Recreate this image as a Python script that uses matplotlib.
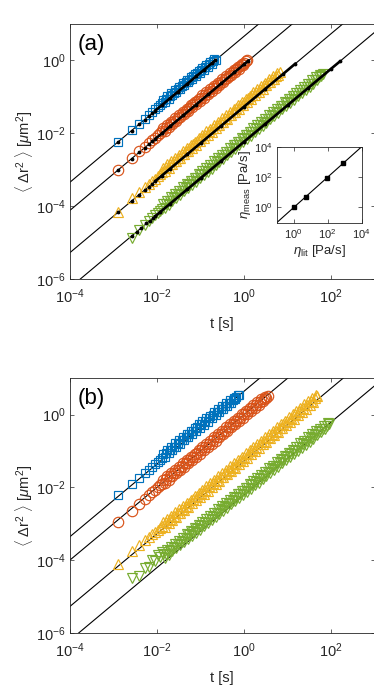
import numpy as np
import matplotlib
matplotlib.use('Agg')
import matplotlib.pyplot as plt
from matplotlib.ticker import NullLocator

plt.rcParams['font.family'] = ['Liberation Sans', 'DejaVu Sans']
plt.rcParams['mathtext.fontset'] = 'custom'
plt.rcParams['mathtext.rm'] = 'Liberation Sans'
plt.rcParams['mathtext.it'] = 'Liberation Sans:italic'
plt.rcParams['mathtext.bf'] = 'Liberation Sans:bold'
plt.rcParams['axes.unicode_minus'] = False

# colours / markers of the four fluids
colors = ['#0072BD', '#D95319', '#EDB120', '#77AC30']
markers = ['s', 'o', '^', 'v']
msizes = [6, 7.5, 7.5, 7.5]

# slopes of the diffusive reference lines <dr^2> = c * t
coef_a = [4.6, 0.78, 0.054, 0.0059]
coef_b = [4.4, 1.0, 0.053, 0.0062]
t_line = [1e-4, 1e3]

# lag times [s] shared by all MSD curves
lag = [1.3e-3, 2.6e-3, 3.9e-3, 5.2e-3, 6.5e-3, 7.8e-3, 9.1e-3, 1.04e-2, 1.17e-2, 1.3e-2,
       0.014, 0.015, 0.0161, 0.0172, 0.0185, 0.0198, 0.0212, 0.0227, 0.0243, 0.0261,
       0.0279, 0.0299, 0.0321, 0.0344, 0.0368, 0.0395, 0.0423, 0.0453, 0.0486, 0.0520,
       0.0558, 0.0597, 0.0640, 0.0686, 0.0735, 0.0788, 0.0844, 0.0904, 0.0969, 0.104,
       0.111, 0.119, 0.128, 0.137, 0.147, 0.157, 0.168, 0.180, 0.193, 0.207,
       0.222, 0.238, 0.255, 0.273, 0.293, 0.314, 0.336, 0.360, 0.386, 0.414,
       0.443, 0.475, 0.509, 0.545, 0.584, 0.626, 0.671, 0.719, 0.770, 0.825,
       0.884, 0.948, 1.016, 1.09, 1.17, 1.25, 1.34, 1.43, 1.54, 1.65,
       1.76, 1.89, 2.03, 2.17, 2.33, 2.49, 2.67, 2.86, 3.07, 3.29,
       3.52, 3.77, 4.04, 4.33, 4.64, 4.98, 5.33, 5.71, 6.12, 6.56,
       7.03, 7.53, 8.07, 8.65, 9.27, 9.93, 10.6, 11.4, 12.2, 13.1,
       14.0, 15.0, 16.1, 17.3, 18.5, 19.8, 21.2, 22.8, 24.4, 26.1,
       28.0, 30.0, 32.1, 34.4, 36.9, 39.5, 42.4, 45.4, 48.6, 52.1,
       55.8, 59.8, 64.1, 68.7, 73.6, 78.9, 84.5, 90.5]

# measured MSD divided by the reference line, read off the bands
# panel (a)
r_a_blue = [1.0, 1.05, 1.02, 1.05, 1.08, 1.1, 1.1, 1.12, 1.1, 1.15,
            1.28, 1.05, 1.18, 1.32, 1.04, 1.2, 1.3, 1.06, 1.17, 1.33,
            1.05, 1.2, 1.3, 1.04, 1.18, 1.32, 1.06, 1.2, 1.3, 1.05,
            1.17, 1.3, 1.04, 1.18, 1.28, 1.03, 1.15, 1.27, 1.02, 1.14,
            1.25, 1.0, 1.12, 1.22, 0.99, 1.1, 1.18, 0.98, 1.07, 1.12, 1.02]
r_a_red = [1.0, 1.05, 1.05, 1.06, 1.06, 1.08, 1.08, 1.1, 1.1, 1.12,
           1.25, 1.02, 1.15, 1.28, 1.03, 1.16, 1.27, 1.02, 1.15, 1.28,
           1.03, 1.16, 1.27, 1.04, 1.15, 1.28, 1.02, 1.16, 1.27, 1.03,
           1.15, 1.28, 1.04, 1.16, 1.27, 1.02, 1.15, 1.26, 1.03, 1.15,
           1.27, 1.02, 1.15, 1.26, 1.03, 1.14, 1.25, 1.02, 1.14, 1.25,
           1.02, 1.13, 1.24, 1.01, 1.13, 1.23, 1.01, 1.12, 1.22, 1.0,
           1.12, 1.21, 1.0, 1.11, 1.2, 1.0, 1.1, 1.18, 1.0, 1.1,
           1.17, 1.0, 1.08, 1.14, 1.1]
r_a_yellow = [1.0, 1.2, 1.15, 1.18, 1.15, 1.2, 1.18, 1.22, 1.2, 1.25,
              1.5, 1.15, 1.34, 1.52, 1.14, 1.35, 1.5, 1.16, 1.33, 1.52,
              1.15, 1.35, 1.5, 1.14, 1.34, 1.53, 1.16, 1.35, 1.5, 1.15,
              1.34, 1.52, 1.14, 1.35, 1.5, 1.16, 1.33, 1.52, 1.15, 1.35,
              1.5, 1.14, 1.34, 1.53, 1.16, 1.35, 1.5, 1.15, 1.34, 1.52,
              1.14, 1.35, 1.5, 1.16, 1.33, 1.52, 1.15, 1.35, 1.5, 1.14,
              1.34, 1.53, 1.16, 1.35, 1.5, 1.15, 1.34, 1.52, 1.14, 1.35,
              1.5, 1.16, 1.33, 1.52, 1.15, 1.35, 1.5, 1.14, 1.34, 1.53,
              1.16, 1.35, 1.5, 1.15, 1.34, 1.52, 1.14, 1.35, 1.5, 1.16,
              1.33, 1.5, 1.15, 1.35, 1.48, 1.14, 1.32, 1.45, 1.2, 1.36]
r_a_green = [0.9, 1.0, 1.0, 1.05, 1.05, 1.08, 1.1, 1.1, 1.12,
             1.4, 1.02, 1.2, 1.42, 1.03, 1.21, 1.4, 1.02, 1.2, 1.41,
             1.03, 1.2, 1.4, 1.02, 1.21, 1.42, 1.03, 1.2, 1.4, 1.02,
             1.2, 1.41, 1.03, 1.2, 1.4, 1.02, 1.21, 1.42, 1.03, 1.2,
             1.4, 1.02, 1.2, 1.41, 1.03, 1.2, 1.4, 1.02, 1.21, 1.42,
             1.03, 1.2, 1.4, 1.02, 1.2, 1.41, 1.03, 1.2, 1.4, 1.02,
             1.21, 1.42, 1.03, 1.2, 1.4, 1.02, 1.2, 1.41, 1.03, 1.2,
             1.4, 1.02, 1.21, 1.42, 1.03, 1.2, 1.4, 1.02, 1.2, 1.41,
             1.03, 1.2, 1.4, 1.02, 1.21, 1.42, 1.03, 1.2, 1.4, 1.02,
             1.2, 1.41, 1.03, 1.2, 1.4, 1.02, 1.21, 1.42, 1.03, 1.2,
             1.4, 1.02, 1.2, 1.41, 1.03, 1.2, 1.38, 1.02, 1.2, 1.38,
             1.02, 1.18, 1.36, 1.01, 1.18, 1.35, 1.0, 1.17, 1.34, 1.0,
             1.16, 1.32, 1.0, 1.15, 1.3, 1.0, 1.14, 1.28, 1.0, 1.13,
             1.25, 1.05, 1.15]

# panel (b)
r_b_blue = [1.1, 1.05, 1.05, 1.06, 1.06, 1.08, 1.1, 1.1, 1.12, 1.12,
            1.38, 1.05, 1.22, 1.4, 1.06, 1.23, 1.38, 1.05, 1.22, 1.4,
            1.06, 1.23, 1.38, 1.05, 1.22, 1.4, 1.06, 1.23, 1.38, 1.05,
            1.22, 1.38, 1.05, 1.2, 1.36, 1.04, 1.2, 1.35, 1.03, 1.18,
            1.33, 1.02, 1.17, 1.3, 1.0, 1.15, 1.28, 0.99, 1.13, 1.26,
            0.98, 1.12, 1.24, 0.97, 1.1, 1.22, 0.96, 1.08, 1.2, 0.95,
            1.06, 1.18, 0.95, 1.05, 1.15, 0.96, 1.05, 1.1, 1.02]
r_b_red = [0.85, 0.85, 0.9, 0.9, 0.92, 0.95, 0.95, 0.96, 0.98, 0.98,
           1.15, 0.88, 1.02, 1.16, 0.87, 1.01, 1.15, 0.88, 1.02, 1.16,
           0.87, 1.01, 1.15, 0.88, 1.02, 1.16, 0.87, 1.01, 1.15, 0.88,
           1.02, 1.16, 0.87, 1.01, 1.15, 0.88, 1.02, 1.16, 0.87, 1.01,
           1.15, 0.88, 1.02, 1.16, 0.87, 1.01, 1.15, 0.88, 1.02, 1.16,
           0.87, 1.01, 1.15, 0.88, 1.02, 1.16, 0.87, 1.01, 1.15, 0.88,
           1.02, 1.16, 0.87, 1.01, 1.15, 0.88, 1.02, 1.16, 0.87, 1.01,
           1.15, 0.88, 1.02, 1.14, 0.87, 1.0, 1.12, 0.86, 0.98, 1.1,
           0.86, 0.97, 1.08, 0.86, 0.96, 1.05, 0.87, 0.95, 1.0, 0.9, 0.92]
r_b_yellow = [1.15, 1.3, 1.25, 1.25, 1.22, 1.25, 1.25, 1.25, 1.25, 1.27,
              1.48, 1.05, 1.27, 1.46, 1.07, 1.28, 1.49, 1.04, 1.27,
              1.48, 1.05, 1.27, 1.46, 1.07, 1.28, 1.49, 1.04, 1.27,
              1.48, 1.05, 1.27, 1.46, 1.07, 1.28, 1.49, 1.04, 1.27,
              1.48, 1.05, 1.27, 1.46, 1.07, 1.28, 1.49, 1.04, 1.27,
              1.48, 1.05, 1.27, 1.46, 1.07, 1.28, 1.49, 1.04, 1.27,
              1.48, 1.05, 1.27, 1.46, 1.07, 1.28, 1.49, 1.04, 1.27,
              1.48, 1.05, 1.27, 1.46, 1.07, 1.28, 1.49, 1.04, 1.27,
              1.48, 1.05, 1.27, 1.46, 1.07, 1.28, 1.49, 1.04, 1.27,
              1.48, 1.05, 1.27, 1.46, 1.07, 1.28, 1.49, 1.04, 1.27,
              1.48, 1.05, 1.27, 1.46, 1.07, 1.28, 1.49, 1.04, 1.27,
              1.48, 1.05, 1.27, 1.46, 1.07, 1.28, 1.49, 1.04, 1.27,
              1.48, 1.05, 1.27, 1.46, 1.07, 1.28, 1.49, 1.04, 1.27,
              1.48, 1.05, 1.27, 1.46, 1.07, 1.28, 1.49, 1.04, 1.27,
              1.42, 1.3]
r_b_green = [1.95, 1.5, 1.9, 1.6, 2.1, 1.65, 2.1, 1.7, 2.1,
             1.74, 1.23, 1.45, 1.74, 1.23, 1.45, 1.74, 1.23, 1.45, 1.74, 1.23, 1.45,
             1.68, 1.19, 1.4, 1.68, 1.19, 1.4, 1.68, 1.19, 1.4, 1.68, 1.19, 1.4,
             1.62, 1.15, 1.35, 1.62, 1.15, 1.35, 1.62, 1.15, 1.35, 1.62, 1.15, 1.35,
             1.56, 1.1, 1.3, 1.56, 1.1, 1.3, 1.56, 1.1, 1.3, 1.56, 1.1, 1.3,
             1.51, 1.07, 1.26, 1.51, 1.07, 1.26, 1.51, 1.07, 1.26, 1.51, 1.07, 1.26,
             1.46, 1.04, 1.22, 1.46, 1.04, 1.22, 1.46, 1.04, 1.22, 1.46, 1.04, 1.22,
             1.42, 1.0, 1.18, 1.42, 1.0, 1.18, 1.42, 1.0, 1.18, 1.42, 1.0, 1.18,
             1.37, 0.97, 1.14, 1.37, 0.97, 1.14, 1.37, 0.97, 1.14, 1.37, 0.97, 1.14,
             1.32, 0.94, 1.1, 1.32, 0.94, 1.1, 1.32, 0.94, 1.1, 1.32, 0.94, 1.1,
             1.27, 0.9, 1.06, 1.27, 0.9, 1.06, 1.27, 0.9, 1.06, 1.27, 0.9, 1.06,
             1.2, 0.88, 1.02, 1.18, 0.9, 1.02, 1.1, 1.0]

# first lag index of each curve
start_a = [0, 0, 0, 1]
start_b = [0, 0, 0, 1]

# black reference points in panel (a)
tk_blue = [1.3e-3, 2.6e-3, 3.9e-3, 5.2e-3, 6.5e-3, 7.8e-3, 9.1e-3, 1.3e-2, 0.02, 0.03, 0.05,
           0.08, 0.12, 0.18, 0.22]
yk_blue = [6.0e-3, 1.2e-2, 1.8e-2, 2.4e-2, 3.0e-2, 3.6e-2, 4.2e-2, 6.0e-2, 9.2e-2, 0.138, 0.23,
           0.37, 0.55, 0.83, 1.0]
tk_red = [1.3e-3, 2.6e-3, 3.9e-3, 5.2e-3, 6.5e-3, 7.8e-3, 9.1e-3, 1.3e-2, 0.02, 0.04, 0.08,
          0.15, 0.3, 0.6, 1.0, 1.25]
yk_red = [1.0e-3, 2.0e-3, 3.0e-3, 4.1e-3, 5.1e-3, 6.1e-3, 7.1e-3, 1.0e-2, 1.56e-2, 3.1e-2,
          6.2e-2, 0.117, 0.234, 0.47, 0.78, 0.98]
tk_yellow = [1.3e-3, 2.6e-3, 3.9e-3, 5.2e-3, 6.5e-3, 7.8e-3, 9.1e-3, 1.3e-2, 0.02, 0.05, 0.1,
             0.3, 1.0, 3.0, 8.0, 15]
yk_yellow = [7.0e-5, 1.4e-4, 2.1e-4, 2.8e-4, 3.5e-4, 4.2e-4, 4.9e-4, 7.0e-4, 1.08e-3, 2.7e-3,
             5.4e-3, 1.62e-2, 5.4e-2, 0.162, 0.43, 0.81]
tk_green = [2.6e-3, 3.4e-3, 4.4e-3, 5.7e-3, 6.8e-3, 8e-3, 9.2e-3, 1.2e-2, 0.02, 0.05, 0.1, 0.3,
            1, 3, 10, 30, 100, 160]
yk_green = [1.5e-5, 2.0e-5, 2.6e-5, 3.4e-5, 4.0e-5, 4.7e-5, 5.4e-5, 7.1e-5, 1.18e-4, 2.95e-4,
            5.9e-4, 1.77e-3, 5.9e-3, 1.77e-2, 5.9e-2, 0.177, 0.59, 0.94]

# inset: measured vs literature viscosity
eta_lit = [1.0, 5.0, 85, 800]
eta_meas = [1.0, 5.0, 85, 800]
eta_lim = [0.1, 1e4]

ratios_a = [r_a_blue, r_a_red, r_a_yellow, r_a_green]
ratios_b = [r_b_blue, r_b_red, r_b_yellow, r_b_green]
black_a = [(tk_blue, yk_blue), (tk_red, yk_red), (tk_yellow, yk_yellow), (tk_green, yk_green)]

tc = '#262626'
lag = np.array(lag)


def style(ax, xt, yt, fs):
    ax.set_xscale('log')
    ax.set_yscale('log')
    ax.set_xticks(xt)
    ax.set_yticks(yt)
    ax.xaxis.set_minor_locator(NullLocator())
    ax.yaxis.set_minor_locator(NullLocator())
    ax.tick_params(direction='in', length=3, width=0.5, top=True, right=True,
                   labelsize=fs, colors=tc, pad=3)
    for s in ax.spines.values():
        s.set_linewidth(0.6)
        s.set_color(tc)


fig = plt.figure(figsize=(3.74, 6.92), dpi=100)
ax_a = fig.add_axes([70 / 374, 1 - 279.3 / 692, 304.5 / 374, 255.3 / 692])
ax_b = fig.add_axes([70 / 374, 1 - 632.7 / 692, 304.5 / 374, 254.4 / 692])

panels = [(ax_a, coef_a, ratios_a, start_a, '(a)'), (ax_b, coef_b, ratios_b, start_b, '(b)')]
for ax, coefs, ratios, starts, lab in panels:
    for c in coefs:
        ax.plot(t_line, np.array(t_line) * c, color='k', lw=0.8, zorder=1)
    for r, s0, c, col, m, ms in zip(ratios, starts, coefs, colors, markers, msizes):
        t = lag[s0:s0 + len(r)]
        r = np.array(r)[:len(t)]
        ax.plot(t, c * t * r, linestyle='none', marker=m, ms=ms, mfc='none',
                mec=col, mew=0.85, zorder=2)
    style(ax, [1e-4, 1e-2, 1e0, 1e2], [1e-6, 1e-4, 1e-2, 1e0], 10.5)
    ax.tick_params(axis='x', pad=6)
    ax.set_xlim(1e-4, 1e3)
    ax.set_ylim(1e-6, 1e1)
    ax.set_xlabel('t [s]', fontsize=10.5, color=tc, labelpad=8)
    ax.set_ylabel(r'$\langle\ \Delta\mathrm{r}^2\ \rangle$ [$\mu$m$^2$]', fontsize=10.5, color=tc, labelpad=1)
    ax.text(0.026, 0.92, lab, transform=ax.transAxes, fontsize=16, va='center', ha='left', color='k')

for t, y in black_a:
    t = np.array(t)
    y = np.array(y)
    ax_a.plot(t, y, 'k.', ms=3.5, zorder=3)
    dense = t >= 9e-3
    ax_a.plot(t[dense], y[dense], 'k-', lw=1.9, zorder=3)

ins = fig.add_axes([276.7 / 374, 1 - 222.7 / 692, 85 / 374, 76 / 692])
ins.plot(eta_lim, eta_lim, color='k', lw=0.8)
ins.plot(eta_lit, eta_meas, 'ks', ms=2.5, mfc='k')
style(ins, [1e0, 1e2, 1e4], [1e0, 1e2, 1e4], 8)
ins.set_xlim(eta_lim)
ins.set_ylim(eta_lim)
ins.set_xlabel(r'$\eta_{\mathrm{lit}}$ [Pa/s]', fontsize=9.5, color=tc, labelpad=2)
ins.set_ylabel(r'$\eta_{\mathrm{meas}}$ [Pa/s]', fontsize=9.5, color=tc, labelpad=1)

fig.savefig('out.png', dpi=100)
